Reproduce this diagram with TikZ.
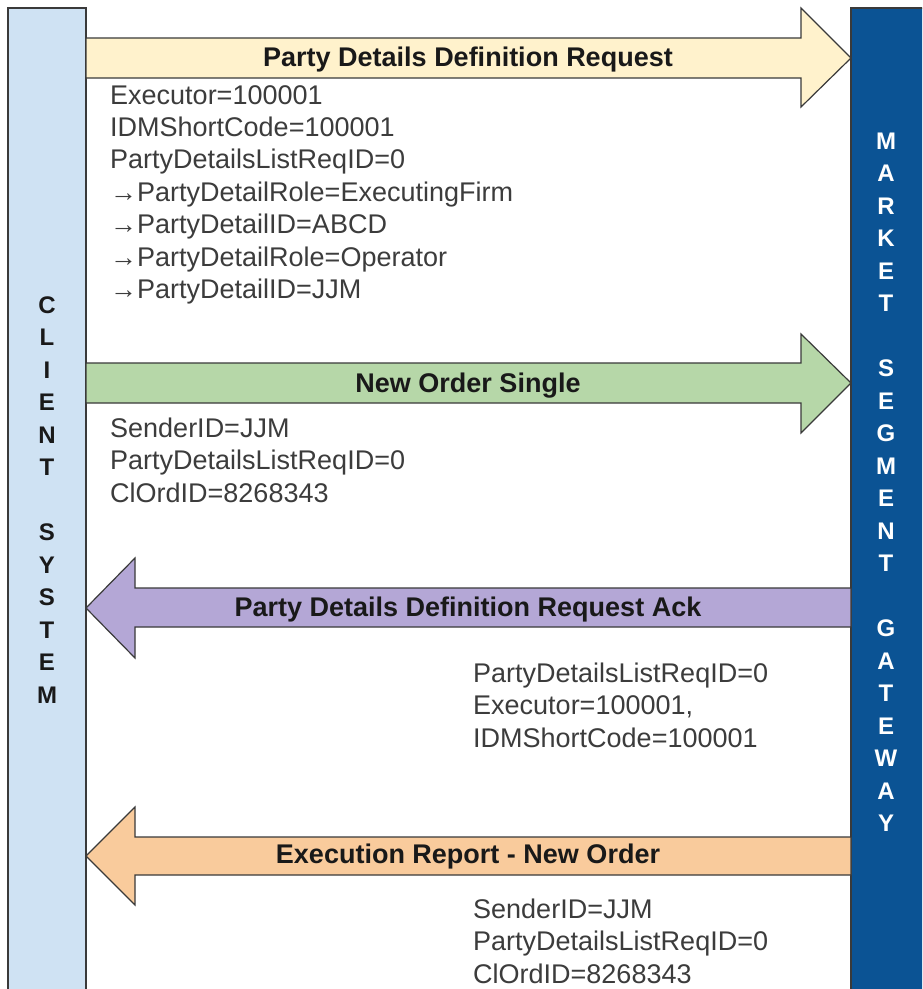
\documentclass[tikz,border=0pt]{standalone}
\usepackage{fontspec}
\setmainfont{Liberation Sans}
\definecolor{clientfill}{HTML}{CFE2F3}
\definecolor{gatefill}{HTML}{0B5394}
\definecolor{yelfill}{HTML}{FFF2CC}
\definecolor{grnfill}{HTML}{B6D7A8}
\definecolor{purfill}{HTML}{B4A7D6}
\definecolor{orgfill}{HTML}{F9CB9C}
\definecolor{edge}{HTML}{3A3A3A}
\definecolor{bodytext}{HTML}{3C3C3C}
\begin{document}
\begin{tikzpicture}[x=1pt,y=-1pt,
  blockarrow/.style={draw=edge, line width=1.2pt, line join=miter},
  msglabel/.style={anchor=base, inner sep=0pt, font=\fontsize{27}{32.4}\selectfont\bfseries, text=black!90},
  msgbody/.style={anchor=base west, inner sep=0pt, align=left, font=\fontsize{27}{32.4}\selectfont, text=bodytext},
  vertlabel/.style={anchor=center, inner sep=0pt, align=center, font=\fontsize{24}{32.5}\selectfont\bfseries}]
\useasboundingbox (0,0) rectangle (922,989);
\clip (0,0) rectangle (922,989);
\fill[white] (0,0) rectangle (922,989);
% bars
\draw[fill=clientfill, draw=edge, line width=1.2pt] (8,8) rectangle (86,1000);
\draw[fill=gatefill, draw=edge, line width=1.2pt] (851,8) rectangle (930,1000);
\node[vertlabel, text=black!90] (client) at (47,500) {C\\L\\I\\E\\N\\T\\~\\S\\Y\\S\\T\\E\\M};
\node[vertlabel, text=white] (gateway) at (886,482) {M\\A\\R\\K\\E\\T\\~\\S\\E\\G\\M\\E\\N\\T\\~\\G\\A\\T\\E\\W\\A\\Y};
% arrow 1
\draw[blockarrow, fill=yelfill] (86,38) -- (801,38) -- (801,8) -- (851,58) -- (801,107) -- (801,78) -- (86,78) -- cycle;
\node[msglabel] (m1) at (468,66) {Party Details Definition Request};
\node[msgbody] (b1) at (110,298.5) {Executor=100001\\IDMShortCode=100001\\PartyDetailsListReqID=0\\→PartyDetailRole=ExecutingFirm\\→PartyDetailID=ABCD\\→PartyDetailRole=Operator\\→PartyDetailID=JJM};
% arrow 2
\draw[blockarrow, fill=grnfill] (86,363) -- (801,363) -- (801,334) -- (851,383) -- (801,433) -- (801,403) -- (86,403) -- cycle;
\node[msglabel] (m2) at (468,392) {New Order Single};
\node[msgbody] (b2) at (110,502) {SenderID=JJM\\PartyDetailsListReqID=0\\ClOrdID=8268343};
% arrow 3
\draw[blockarrow, fill=purfill] (851,588) -- (135,588) -- (135,558) -- (86,608) -- (135,658) -- (135,627) -- (851,627) -- cycle;
\node[msglabel] (m3) at (468,616) {Party Details Definition Request Ack};
\node[msgbody] (b3) at (473,747) {PartyDetailsListReqID=0\\Executor=100001,\\IDMShortCode=100001};
% arrow 4
\draw[blockarrow, fill=orgfill] (851,837) -- (135,837) -- (135,807) -- (86,856) -- (135,905) -- (135,875) -- (851,875) -- cycle;
\node[msglabel] (m4) at (468,863) {Execution Report - New Order};
\node[msgbody] (b4) at (473,983) {SenderID=JJM\\PartyDetailsListReqID=0\\ClOrdID=8268343};
\end{tikzpicture}
\end{document}
